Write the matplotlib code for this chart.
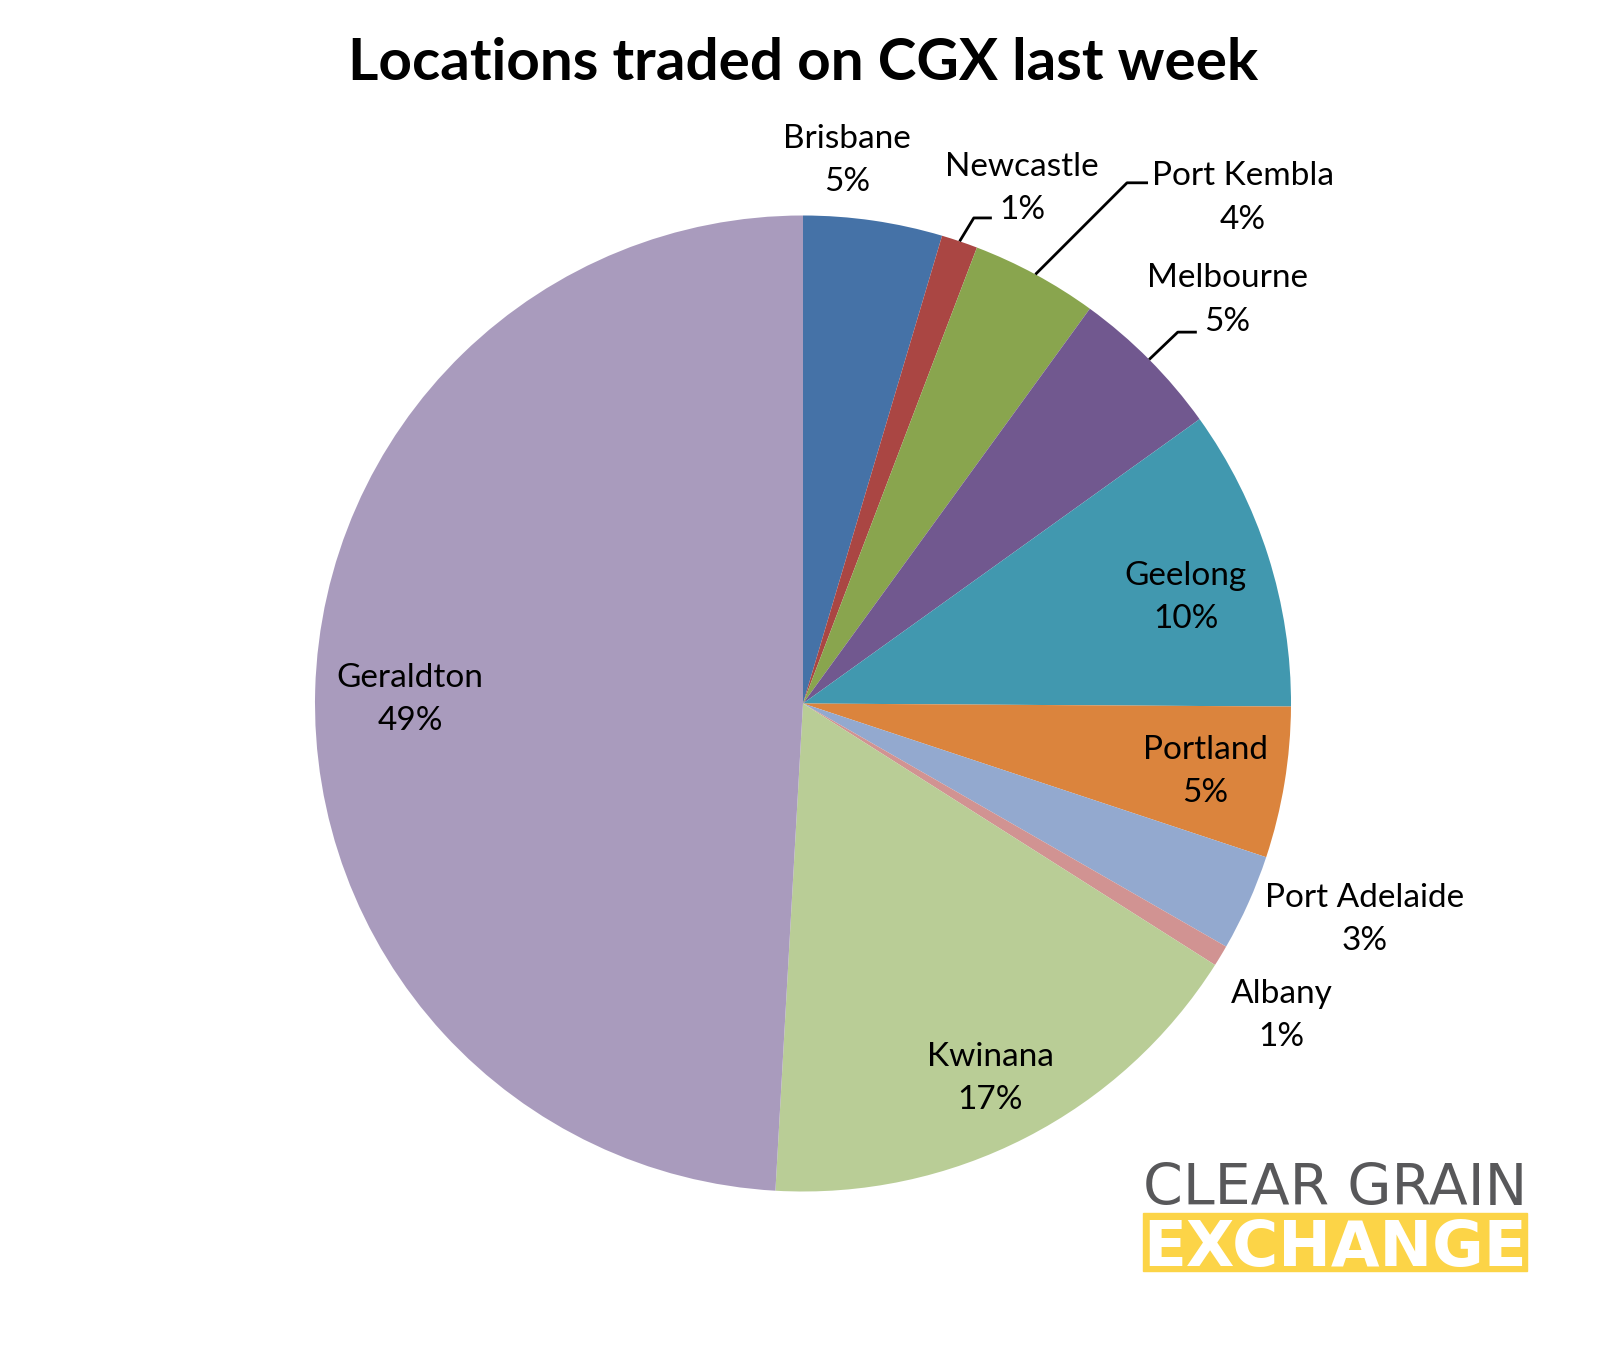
import matplotlib
matplotlib.use("Agg")
import matplotlib.pyplot as plt
import numpy as np

# ---------------- data ----------------
title = "Locations traded on CGX last week"
locations = ["Brisbane", "Newcastle", "Port Kembla", "Melbourne", "Geelong",
             "Portland", "Port Adelaide", "Albany", "Kwinana", "Geraldton"]
shares = [4.6, 1.2, 4.2, 5.1, 10.0, 5.0, 3.2, 0.7, 16.9, 49.1]
colors = ["#4572A7", "#AA4643", "#89A54E", "#71588F", "#4198AF",
          "#DB843D", "#93A9CF", "#D19392", "#B9CD96", "#A99BBD"]

# ---------------- layout ----------------
W, H = 1608, 1352
CX, CY, R = 803, 703.5, 488   # pie centre / radius in pixels (from top-left)

# label block centres, in radius units relative to pie centre
label_xy = [(0.090, 1.113), (0.449, 1.056), (0.902, 1.036), (0.869, 0.827),
            (0.784, 0.218), (0.824, -0.139), (1.151, -0.443), (0.981, -0.639),
            (0.384, -0.769), (-0.805, 0.008)]
# leader line elbows (radius units) for labels that have one
leaders = {1: [(0.350, 0.995), (0.387, 0.995)],
           2: [(0.664, 1.067), (0.707, 1.067)],
           3: [(0.768, 0.761), (0.807, 0.761)]}

FONT = "Lato"

fig = plt.figure(figsize=(W / 100, H / 100), dpi=100)
ax = fig.add_axes([0, 0, 1, 1])

wedges, _ = ax.pie(shares, colors=colors, startangle=90, counterclock=False,
                   radius=1.0, center=(0, 0), frame=True,
                   wedgeprops=dict(linewidth=0, edgecolor="none"))
ax.set_xlim(-CX / R, (W - CX) / R)
ax.set_ylim(-(H - CY) / R, CY / R)
ax.set_aspect("equal")
ax.axis("off")

total = sum(shares)
for i, (name, val) in enumerate(zip(locations, shares)):
    pct = "%.0f%%" % (100.0 * val / total)
    x, y = label_xy[i]
    ax.text(x, y, f"{name}\n{pct}", ha="center", va="center",
            fontsize=24, family=FONT, color="black", linespacing=1.55)
    if i in leaders:
        w = wedges[i]
        mid = np.deg2rad((w.theta1 + w.theta2) / 2.0)
        pts = [(np.cos(mid), np.sin(mid))] + leaders[i]
        xs, ys = zip(*pts)
        ax.plot(xs, ys, color="black", lw=2.0, solid_capstyle="butt")

fig.text(803 / W, 1 - 63 / H, title, ha="center", va="center",
         fontsize=42, fontweight="bold", family=FONT)

# ---------------- logo ----------------
gray = "#58585A"
yellow = "#FCD447"
lx0, lx1 = 1143, 1527
renderer = fig.canvas.get_renderer()


def fit_text(y_base, s, size, **kw):
    t = fig.text(lx0 / W, 1 - y_base / H, s, ha="left", va="baseline",
                 fontsize=size, **kw)
    bb = t.get_window_extent(renderer)
    t.set_fontsize(size * (lx1 - lx0) / bb.width)
    bb = t.get_window_extent(renderer)
    t.set_x(t.get_position()[0] + (lx0 - bb.x0) / W)
    return t


fit_text(1205, "CLEAR GRAIN", 36, family="DejaVu Sans", color=gray)
band = plt.Rectangle((lx0 / W, 1 - 1271 / H), (lx1 - lx0) / W, 58 / H,
                     transform=fig.transFigure, color=yellow, zorder=5)
fig.patches.append(band)
fit_text(1266, "EXCHANGE", 44, family="DejaVu Sans", fontweight="bold",
         color="white", zorder=6)

fig.savefig("out.png", dpi=100)
